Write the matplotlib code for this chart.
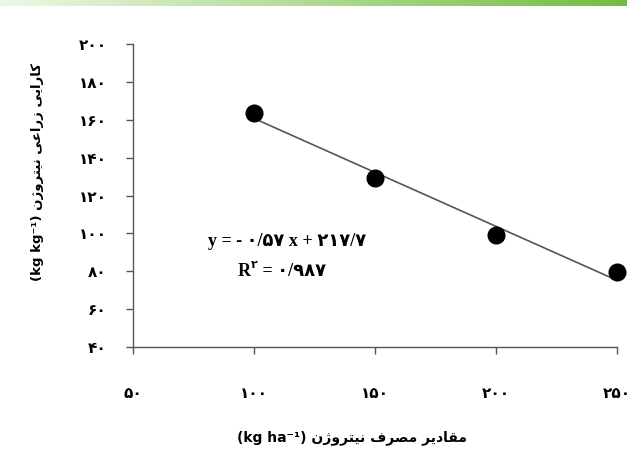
import numpy as np
import matplotlib
matplotlib.use("Agg")
import matplotlib.pyplot as plt
from matplotlib.ticker import FuncFormatter, FixedLocator
from matplotlib.transforms import offset_copy

# ---- data ----
nitrogen_rate = [100, 150, 200, 250]
agronomic_eff = [163.5, 129, 99, 79.5]
slope, intercept = -0.57, 217.7
r2 = 0.987
x_ticks = [50, 100, 150, 200, 250]
y_ticks = [40, 60, 80, 100, 120, 140, 160, 180, 200]
xlabel_fa = "مقادیر مصرف نیتروژن"
ylabel_fa = "کارایی زراعی نیتروژن"

# ---- minimal Persian shaping (presentation forms) ----
FORMS = {
    'ک': (0xFB8E, 0xFB8F, 0xFB90, 0xFB91), 'ا': (0xFE8D, 0xFE8E, None, None),
    'ر': (0xFEAD, 0xFEAE, None, None), 'ی': (0xFBFC, 0xFBFD, 0xFBFE, 0xFBFF),
    'ز': (0xFEAF, 0xFEB0, None, None), 'ع': (0xFEC9, 0xFECA, 0xFECB, 0xFECC),
    'ن': (0xFEE5, 0xFEE6, 0xFEE7, 0xFEE8), 'ت': (0xFE95, 0xFE96, 0xFE97, 0xFE98),
    'و': (0xFEED, 0xFEEE, None, None), 'ژ': (0xFB8A, 0xFB8B, None, None),
    'م': (0xFEE1, 0xFEE2, 0xFEE3, 0xFEE4), 'ق': (0xFED5, 0xFED6, 0xFED7, 0xFED8),
    'د': (0xFEA9, 0xFEAA, None, None), 'ص': (0xFEB9, 0xFEBA, 0xFEBB, 0xFEBC),
    'ف': (0xFED1, 0xFED2, 0xFED3, 0xFED4),
}

def shape(text):
    out = []
    for i, ch in enumerate(text):
        if ch not in FORMS:
            out.append(ch)
            continue
        f = FORMS[ch]
        prev = text[i - 1] if i > 0 else None
        nxt = text[i + 1] if i + 1 < len(text) else None
        jp = prev in FORMS and FORMS[prev][2] is not None
        jn = f[2] is not None and nxt in FORMS
        if jp and jn:
            cp = f[3]
        elif jp:
            cp = f[1]
        elif jn:
            cp = f[2]
        else:
            cp = f[0]
        out.append(chr(cp))
    return "".join(out)[::-1]

FA_DIGITS = str.maketrans("0123456789.", "۰۱۲۳۴۵۶۷۸۹/")
def fa(s):
    return str(s).translate(FA_DIGITS)

plt.rcParams['font.family'] = ['DejaVu Sans']

fig = plt.figure(figsize=(6.27, 4.5), dpi=100)

# top green gradient strip
gax = fig.add_axes([0, 1 - 6 / 450, 1, 6 / 450])
grad = np.linspace(0, 1, 256)
c0 = np.array([0.93, 0.97, 0.90])
c1 = np.array([0.45, 0.74, 0.25])
img = c0[None, :] + (c1 - c0)[None, :] * grad[:, None]
gax.imshow(img[None, :, :], aspect='auto', extent=[0, 1, 0, 1])
gax.axis('off')

ax = fig.add_axes([133 / 627, 1 - 347 / 450, (617 - 133) / 627, (347 - 44) / 450])
ax.set_xlim(50, 250)
ax.set_ylim(40, 200)

xx = np.array([nitrogen_rate[0], nitrogen_rate[-1]])
ax.plot(xx, slope * xx + intercept, color='#555555', lw=1.2, zorder=2, clip_on=False)
ax.plot(nitrogen_rate, agronomic_eff, 'o', color='black', ms=12, zorder=3, clip_on=False)

for s in ['top', 'right']:
    ax.spines[s].set_visible(False)
for s in ['left', 'bottom']:
    ax.spines[s].set_color('#555555')
    ax.spines[s].set_linewidth(1.0)

ax.xaxis.set_major_locator(FixedLocator(x_ticks))
ax.yaxis.set_major_locator(FixedLocator(y_ticks))
ax.xaxis.set_major_formatter(FuncFormatter(lambda v, p: fa(int(v))))
ax.yaxis.set_major_formatter(FuncFormatter(lambda v, p: fa(int(v))))
ax.tick_params(axis='y', length=5, width=1, color='#555555', pad=14, labelsize=11)
ax.tick_params(axis='x', length=5, width=1, color='#555555', pad=23, labelsize=11)
for lab in ax.get_xticklabels() + ax.get_yticklabels():
    lab.set_fontweight('bold')

# axis labels
fig.text(352 / 627, 1 - 438 / 450, "(kg ha⁻¹) " + shape(xlabel_fa),
         ha='center', va='center', fontsize=10, fontweight='bold',
         family=['DejaVu Sans'])
fig.text(38 / 627, 1 - 172 / 450, "(kg kg⁻¹) " + shape(ylabel_fa),
         ha='center', va='center', rotation=90, fontsize=9.5, fontweight='bold',
         family=['DejaVu Sans'])

# equation
eqfam = ['Liberation Serif', 'DejaVu Sans']
eq = f"y = - {fa(abs(slope))} x + {fa(intercept)}"
fig.text(287 / 627, 1 - 242 / 450, eq, ha='center', va='center', fontsize=13,
         fontweight='bold', family=eqfam)

# R^2 line: "R" + superscript + " = value"
fig.canvas.draw()
r_txt = fig.text(238 / 627, 1 - 272 / 450, "R", ha='left', va='center',
                 fontsize=13, fontweight='bold', family=eqfam)
fig.canvas.draw()
bb = r_txt.get_window_extent()
sup = fig.text(bb.x1 / fig.bbox.width, 1 - 266 / 450, fa(2), ha='left', va='center',
               fontsize=8, fontweight='bold', family=eqfam)
fig.canvas.draw()
bb2 = sup.get_window_extent()
fig.text(bb2.x1 / fig.bbox.width, 1 - 272 / 450, " = " + fa(r2), ha='left', va='center',
         fontsize=13, fontweight='bold', family=eqfam)

fig.savefig("out.png", dpi=100)
